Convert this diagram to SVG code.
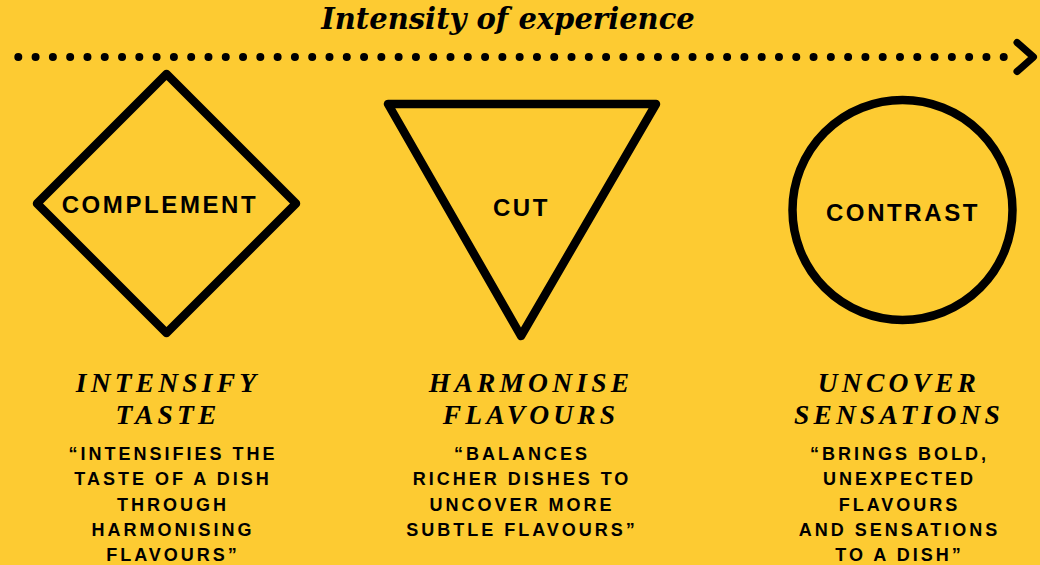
<svg xmlns="http://www.w3.org/2000/svg" width="1040" height="565" viewBox="0 0 1040 565">
<style>
.shape{fill:none;stroke:#000;stroke-width:8.5;stroke-linejoin:round;stroke-linecap:round}
.label{font-family:"Liberation Sans",Arial,sans-serif;font-weight:bold;font-size:24px;letter-spacing:2.6px;fill:#000;text-anchor:middle}
.head{font-family:"Liberation Serif","Times New Roman",serif;font-weight:bold;font-style:italic;font-size:27.5px;letter-spacing:4.2px;fill:#000;text-anchor:middle}
.body{font-family:"Liberation Sans",Arial,sans-serif;font-weight:bold;font-size:18px;letter-spacing:3px;fill:#000;text-anchor:middle}
.title{font-family:"DejaVu Serif","Liberation Serif",serif;font-weight:bold;font-style:italic;font-size:29px;fill:#000;text-anchor:middle}
</style>
<rect width="1040" height="565" fill="#FDCB32"/>
<text class="title" x="508" y="29">Intensity of experience</text>
<g id="connectors">
<line x1="18.3" y1="57" x2="1021" y2="57" stroke="#000" stroke-width="8" stroke-linecap="round" stroke-dasharray="0 17.288"/>
<polyline points="1017,42.5 1033.5,57 1017,71.5" fill="none" stroke="#000" stroke-width="7" stroke-linecap="round" stroke-linejoin="round"/>
</g>
<g id="complement">
<polygon class="shape" points="166.5,74 296,203.5 166.5,333 37,203.5"/>
<text class="label" x="160" y="213">COMPLEMENT</text>
<text class="head" x="168" y="392">INTENSIFY</text>
<text class="head" x="168" y="424">TASTE</text>
<text class="body" x="173" y="460">“INTENSIFIES THE</text>
<text class="body" x="173" y="485.3">TASTE OF A DISH</text>
<text class="body" x="173" y="510.6">THROUGH</text>
<text class="body" x="173" y="536">HARMONISING</text>
<text class="body" x="173" y="561">FLAVOURS”</text>
</g>
<g id="cut">
<polygon class="shape" points="388,104 656,104 521,336"/>
<text class="label" x="521.5" y="216">CUT</text>
<text class="head" x="531" y="392">HARMONISE</text>
<text class="head" x="531" y="424">FLAVOURS</text>
<text class="body" x="522" y="460">“BALANCES</text>
<text class="body" x="522" y="485.3">RICHER DISHES TO</text>
<text class="body" x="522" y="510.6">UNCOVER MORE</text>
<text class="body" x="522" y="536">SUBTLE FLAVOURS”</text>
</g>
<g id="contrast">
<circle class="shape" cx="902.5" cy="210" r="110" stroke-width="9"/>
<text class="label" x="903" y="220.5">CONTRAST</text>
<text class="head" x="899" y="392">UNCOVER</text>
<text class="head" x="899" y="424">SENSATIONS</text>
<text class="body" x="899.5" y="460">“BRINGS BOLD,</text>
<text class="body" x="899.5" y="485.3">UNEXPECTED</text>
<text class="body" x="899.5" y="510.6">FLAVOURS</text>
<text class="body" x="899.5" y="536">AND SENSATIONS</text>
<text class="body" x="899.5" y="561">TO A DISH”</text>
</g>
</svg>
